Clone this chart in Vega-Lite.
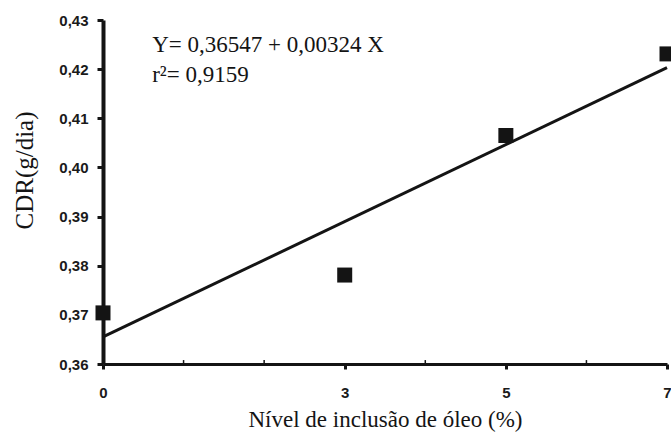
{
  "$schema": "https://vega.github.io/schema/vega-lite/v6.json",
  "width": 564,
  "height": 344,
  "autosize": {"type": "none"},
  "padding": {"left": 103, "top": 20, "right": 4, "bottom": 84},
  "background": "white",
  "config": {
    "font": "Liberation Serif",
    "view": {"stroke": null},
    "axis": {"grid": false, "titleFont": "Liberation Serif", "labelFont": "Liberation Sans"}
  },
  "datasets": {
    "obs": [
      {"nivel": 0, "cdr": 0.3704},
      {"nivel": 3, "cdr": 0.3781},
      {"nivel": 5, "cdr": 0.4065},
      {"nivel": 7, "cdr": 0.4231}
    ],
    "fit": [
      {"nivel": 0, "cdr": 0.3655},
      {"nivel": 7, "cdr": 0.4203}
    ],
    "minor": [
      {"nivel": 1}, {"nivel": 2}, {"nivel": 4}, {"nivel": 6}
    ],
    "notes": [
      {"nx": 0.61, "ny": 0.4235, "label": "Y= 0,36547 + 0,00324 X"},
      {"nx": 0.61, "ny": 0.4174, "label": "r²= 0,9159"}
    ]
  },
  "layer": [
    {
      "data": {"name": "fit"},
      "mark": {"type": "line", "color": "#141414", "strokeWidth": 3},
      "encoding": {
        "x": {
          "field": "nivel", "type": "quantitative",
          "scale": {"domain": [0, 7], "nice": false},
          "axis": {
            "values": [0, 3, 5, 7],
            "format": "d",
            "title": "Nível de inclusão de óleo (%)",
            "titleFont": "Liberation Serif", "titleFontSize": 23, "titleFontWeight": "normal", "titleColor": "#141414",
            "titlePadding": 8,
            "labelFont": "Liberation Sans", "labelFontSize": 15, "labelFontWeight": "bold", "labelColor": "#1a1a1a",
            "labelPadding": 16, "labelFlush": false,
            "domainColor": "#141414", "domainWidth": 3,
            "tickColor": "#141414", "tickWidth": 3, "tickSize": 5
          }
        },
        "y": {
          "field": "cdr", "type": "quantitative",
          "scale": {"domain": [0.36, 0.43], "nice": false, "zero": false},
          "axis": {
            "values": [0.36, 0.37, 0.38, 0.39, 0.40, 0.41, 0.42, 0.43],
            "labelExpr": "replace(format(datum.value, '.2f'), '.', ',')",
            "title": "CDR(g/dia)",
            "titleFont": "Liberation Serif", "titleFontSize": 25, "titleFontWeight": "normal", "titleColor": "#141414",
            "titleX": -79, "titleY": 150, "titleAngle": -90, "titleAlign": "center", "titleBaseline": "middle",
            "labelFont": "Liberation Sans", "labelFontSize": 15, "labelFontWeight": "bold", "labelColor": "#1a1a1a",
            "labelPadding": 9,
            "domainColor": "#141414", "domainWidth": 4,
            "tickColor": "#141414", "tickWidth": 3, "tickSize": 6
          }
        }
      }
    },
    {
      "data": {"name": "minor"},
      "mark": {"type": "rule", "color": "#141414", "strokeWidth": 1.5},
      "encoding": {
        "x": {"field": "nivel", "type": "quantitative"},
        "y": {"datum": 0.36},
        "y2": {"datum": 0.3608}
      }
    },
    {
      "data": {"name": "obs"},
      "mark": {"type": "point", "shape": "square", "filled": true, "size": 225, "color": "#141414", "opacity": 1},
      "encoding": {
        "x": {"field": "nivel", "type": "quantitative"},
        "y": {"field": "cdr", "type": "quantitative"}
      }
    },
    {
      "data": {"name": "notes"},
      "mark": {"type": "text", "align": "left", "baseline": "alphabetic", "font": "Liberation Serif", "fontSize": 23, "color": "#141414"},
      "encoding": {
        "x": {"field": "nx", "type": "quantitative"},
        "y": {"field": "ny", "type": "quantitative"},
        "text": {"field": "label"}
      }
    }
  ]
}
